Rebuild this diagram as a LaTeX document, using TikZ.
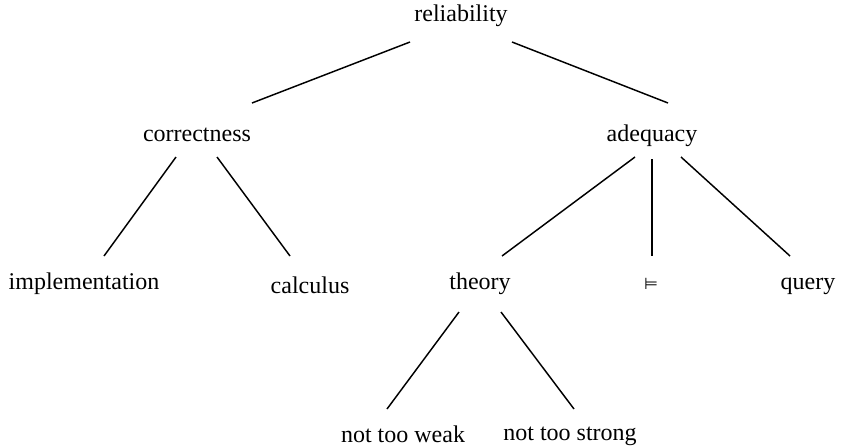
\documentclass[tikz,border=0pt]{standalone}
\usepackage{fontspec}
\setmainfont{Liberation Serif}
\newfontfamily\symfont{DejaVu Sans}
\usetikzlibrary{calc}
\begin{document}
\begin{tikzpicture}[x=0.75pt,y=-0.75pt,
  lbl/.style={anchor=base,inner sep=0pt,font=\fontsize{18}{22}\selectfont},
  edge/.style={line width=1.1pt,line cap=butt}]
\useasboundingbox (0,0) rectangle (852,447);
\node[lbl] (rel) at (461,21) {reliability};
\node[lbl] (cor) at (197,141) {correctness};
\node[lbl] (ade) at (652,141) {adequacy};
\node[lbl] (imp) at (84,289) {implementation};
\node[lbl] (cal) at (310,293) {calculus};
\node[lbl] (the) at (480,289) {theory};
\node[lbl] (mod) at (651,289) {\symfont\fontsize{12}{14}\selectfont ⊨};
\node[lbl] (que) at (808,289) {query};
\node[lbl] (ntw) at (403,442) {not too weak};
\node[lbl] (nts) at (570,440) {not too strong};
\draw[edge] ($(rel.base)+(-51,21)$) -- ($(cor.base)+(55,-38)$);
\draw[edge] ($(rel.base)+(51,21)$) -- ($(ade.base)+(16,-38)$);
\draw[edge] ($(cor.base)+(-21,16)$) -- ($(imp.base)+(20,-33)$);
\draw[edge] ($(cor.base)+(20,16)$) -- ($(cal.base)+(-20,-37)$);
\draw[edge] ($(ade.base)+(-17,16)$) -- ($(the.base)+(22,-33)$);
\draw[edge] ($(ade.base)+(0,18)$) -- ($(mod.base)+(1,-33)$);
\draw[edge] ($(ade.base)+(29,16)$) -- ($(que.base)+(-18,-33)$);
\draw[edge] ($(the.base)+(-21,23)$) -- ($(ntw.base)+(-16,-33)$);
\draw[edge] ($(the.base)+(21,23)$) -- ($(nts.base)+(4,-31)$);
\end{tikzpicture}
\end{document}
